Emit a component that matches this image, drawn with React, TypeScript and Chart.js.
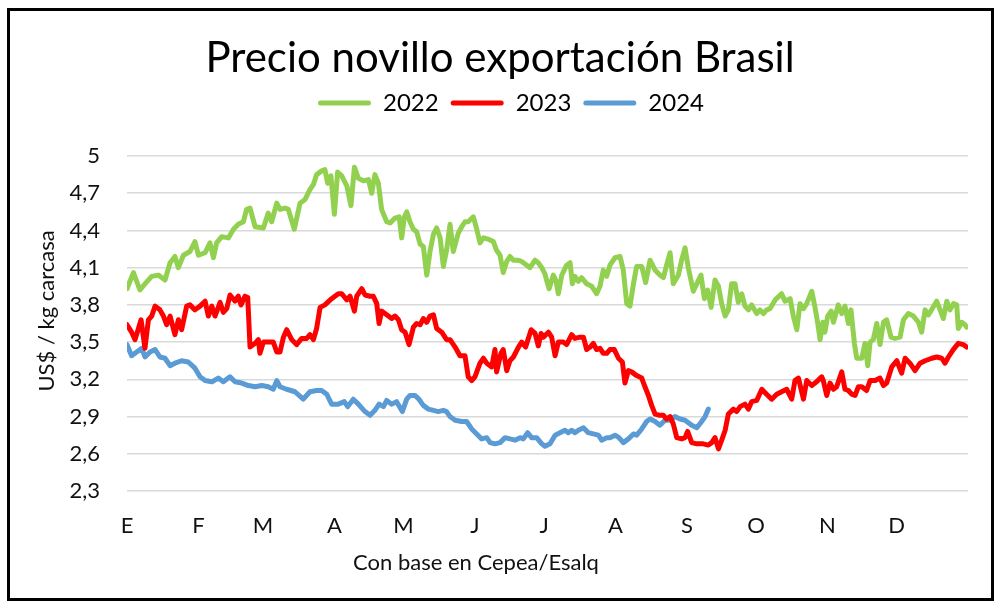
import React, { useEffect, useRef } from "react";
import { Chart, registerables } from "chart.js";

Chart.register(...registerables);

const chartTitle = "Precio novillo exportación Brasil";
const xAxisTitle = "Con base en Cepea/Esalq";
const yAxisTitle = "US$ / kg carcasa";

const monthLabels = ["E", "F", "M", "A", "M", "J", "J", "A", "S", "O", "N", "D"];
const monthStartDays = [0, 31, 59, 90, 120, 151, 181, 212, 243, 273, 304, 334];
const yTickValues = [2.3, 2.6, 2.9, 3.2, 3.5, 3.8, 4.1, 4.4, 4.7, 5.0];

const seriesNames = ["2022", "2023", "2024"];
const seriesColors = ["#92D050", "#FF0000", "#5B9BD5"];

const days2022 = [0, 2.8, 5.6, 7.8, 10.7, 13.6, 16.5, 18.7, 20.8, 22.3, 24.5, 27.3, 29.5, 31.0, 33.9, 36.0, 37.5, 38.9, 41.1, 44.0, 46.2, 48.3, 50.5, 51.9, 53.4, 55.6, 59.2, 61.3, 62.8, 65.0, 66.4, 68.6, 70.0, 72.6, 75.1, 77.3, 79.4, 80.9, 82.3, 84.5, 85.9, 87.1, 88.5, 90.0, 91.4, 93.2, 95.4, 97.2, 98.7, 100.4, 102.6, 104.8, 106.2, 107.6, 109.1, 110.5, 112.7, 114.2, 116.3, 118.1, 119.2, 120.4, 121.4, 122.8, 124.3, 125.7, 127.2, 128.6, 130.1, 131.5, 133.0, 134.4, 135.9, 137.3, 138.7, 140.2, 141.6, 143.8, 145.3, 146.7, 148.1, 150.3, 151.8, 153.2, 154.7, 156.8, 159.0, 160.4, 161.9, 163.3, 164.8, 166.2, 167.7, 169.9, 171.3, 173.5, 174.9, 177.1, 178.5, 180.0, 181.4, 182.1, 183.2, 185.0, 186.1, 187.2, 188.7, 190.8, 192.3, 193.3, 194.4, 195.9, 197.3, 199.5, 201.7, 203.8, 205.3, 206.7, 208.2, 209.6, 211.8, 214.0, 215.4, 216.9, 218.3, 219.8, 221.2, 223.4, 225.1, 227.0, 229.2, 231.3, 232.8, 234.2, 235.7, 237.1, 239.3, 240.7, 242.2, 243.6, 245.8, 247.3, 249.1, 250.6, 252.0, 253.5, 255.2, 256.7, 258.1, 259.6, 261.0, 262.4, 263.9, 265.3, 266.8, 268.2, 269.7, 271.1, 273.3, 274.7, 276.2, 277.6, 279.1, 281.3, 284.1, 285.6, 287.8, 289.2, 290.7, 292.1, 293.6, 295.0, 297.2, 298.6, 299.8, 300.8, 302.0, 302.9, 304.1, 305.6, 306.6, 308.7, 310.2, 311.6, 313.1, 314.2, 315.7, 316.7, 318.9, 320.3, 321.5, 322.5, 323.9, 325.4, 326.8, 328.3, 329.7, 331.6, 333.3, 335.5, 337.0, 339.1, 341.3, 343.5, 344.9, 346.4, 347.8, 349.2, 351.4, 352.9, 354.3, 355.8, 357.2, 358.7, 360.1, 360.8, 362.3, 363.7, 364.4];
const price2022 = [3.93, 4.06, 3.92, 3.97, 4.03, 4.04, 4.00, 4.14, 4.19, 4.10, 4.20, 4.23, 4.31, 4.20, 4.22, 4.30, 4.18, 4.30, 4.35, 4.34, 4.41, 4.45, 4.47, 4.57, 4.58, 4.43, 4.42, 4.54, 4.47, 4.62, 4.57, 4.58, 4.57, 4.41, 4.62, 4.65, 4.73, 4.77, 4.85, 4.88, 4.89, 4.78, 4.84, 4.53, 4.87, 4.84, 4.76, 4.60, 4.91, 4.82, 4.80, 4.81, 4.70, 4.85, 4.78, 4.57, 4.47, 4.46, 4.50, 4.51, 4.34, 4.51, 4.55, 4.47, 4.41, 4.39, 4.29, 4.27, 4.04, 4.23, 4.37, 4.42, 4.34, 4.11, 4.24, 4.45, 4.23, 4.38, 4.43, 4.47, 4.47, 4.51, 4.41, 4.30, 4.34, 4.33, 4.31, 4.24, 4.20, 4.06, 4.15, 4.19, 4.16, 4.16, 4.15, 4.12, 4.10, 4.16, 4.14, 4.10, 4.05, 4.00, 3.93, 4.04, 4.00, 3.89, 4.04, 4.12, 4.14, 3.97, 4.03, 3.99, 4.02, 3.97, 3.95, 3.89, 3.95, 4.08, 4.03, 4.12, 4.18, 4.19, 4.08, 3.81, 3.79, 3.97, 4.11, 4.11, 3.98, 4.16, 4.08, 4.04, 4.02, 4.12, 4.22, 3.97, 4.04, 4.16, 4.26, 4.10, 3.91, 3.97, 4.04, 3.85, 3.92, 3.78, 4.00, 3.95, 3.81, 3.71, 3.76, 3.97, 3.97, 3.82, 3.89, 3.79, 3.76, 3.80, 3.73, 3.76, 3.73, 3.76, 3.77, 3.84, 3.89, 3.83, 3.85, 3.71, 3.60, 3.81, 3.77, 3.81, 3.91, 3.78, 3.65, 3.52, 3.66, 3.58, 3.71, 3.75, 3.66, 3.80, 3.73, 3.79, 3.65, 3.76, 3.49, 3.37, 3.37, 3.49, 3.31, 3.50, 3.52, 3.65, 3.48, 3.66, 3.68, 3.54, 3.53, 3.54, 3.68, 3.73, 3.71, 3.66, 3.58, 3.76, 3.72, 3.76, 3.83, 3.76, 3.69, 3.83, 3.76, 3.81, 3.80, 3.61, 3.66, 3.64, 3.62];

const days2023 = [0, 2.0, 3.5, 6.1, 7.8, 9.3, 10.7, 12.2, 14.3, 15.8, 17.2, 18.7, 20.8, 22.3, 23.7, 25.9, 27.3, 29.5, 31.7, 33.9, 35.3, 36.8, 38.2, 40.4, 41.8, 43.3, 44.7, 46.9, 48.3, 49.5, 51.2, 52.4, 53.4, 55.6, 57.0, 57.7, 59.2, 61.3, 63.5, 65.0, 66.4, 67.9, 69.3, 71.5, 73.6, 75.8, 78.0, 79.4, 80.9, 82.3, 83.8, 85.9, 88.8, 91.7, 93.2, 95.4, 96.8, 98.7, 99.7, 101.9, 103.3, 105.5, 106.9, 108.4, 109.4, 110.5, 112.7, 114.9, 116.3, 117.8, 119.2, 120.7, 122.4, 124.3, 125.7, 127.2, 128.6, 130.1, 131.5, 133.0, 134.4, 136.6, 138.7, 140.2, 142.4, 144.5, 146.7, 148.1, 149.6, 151.0, 153.2, 154.7, 156.1, 158.3, 159.7, 160.4, 162.3, 163.3, 164.8, 166.2, 167.7, 169.9, 171.3, 173.0, 175.4, 177.1, 178.5, 179.7, 180.7, 182.9, 184.3, 185.8, 187.2, 189.4, 190.8, 193.0, 194.4, 196.6, 198.1, 199.5, 201.0, 202.4, 203.8, 205.3, 206.7, 208.2, 209.6, 211.5, 213.3, 215.0, 216.1, 217.6, 219.0, 221.2, 223.4, 224.8, 226.3, 227.7, 229.2, 231.3, 232.8, 234.2, 235.7, 237.1, 238.6, 240.7, 242.2, 243.3, 245.1, 247.3, 250.1, 252.3, 253.8, 255.2, 256.7, 258.1, 259.6, 261.0, 263.2, 264.6, 266.1, 268.2, 269.7, 271.1, 273.3, 275.5, 277.6, 279.8, 282.0, 284.1, 286.3, 288.5, 289.9, 291.4, 293.6, 295.0, 297.2, 299.3, 301.5, 302.2, 303.7, 305.1, 306.6, 308.0, 310.2, 311.6, 313.1, 314.5, 316.0, 317.4, 318.9, 321.0, 322.5, 324.7, 326.8, 328.3, 329.7, 331.9, 334.1, 336.2, 337.7, 339.8, 342.0, 344.2, 346.4, 349.3, 351.4, 353.6, 355.0, 356.5, 358.6, 360.8, 363.0, 364.4];
const price2023 = [3.64, 3.58, 3.52, 3.68, 3.45, 3.68, 3.71, 3.79, 3.76, 3.71, 3.64, 3.71, 3.56, 3.68, 3.60, 3.79, 3.80, 3.76, 3.79, 3.83, 3.71, 3.79, 3.71, 3.82, 3.74, 3.77, 3.88, 3.83, 3.87, 3.80, 3.87, 3.86, 3.46, 3.49, 3.52, 3.41, 3.50, 3.50, 3.50, 3.42, 3.42, 3.54, 3.60, 3.52, 3.48, 3.53, 3.53, 3.56, 3.52, 3.61, 3.78, 3.80, 3.85, 3.89, 3.89, 3.84, 3.87, 3.75, 3.87, 3.93, 3.88, 3.87, 3.87, 3.81, 3.65, 3.75, 3.72, 3.69, 3.71, 3.68, 3.60, 3.58, 3.48, 3.62, 3.65, 3.64, 3.69, 3.66, 3.71, 3.72, 3.61, 3.58, 3.52, 3.52, 3.46, 3.39, 3.39, 3.22, 3.19, 3.22, 3.33, 3.37, 3.33, 3.30, 3.44, 3.26, 3.41, 3.44, 3.27, 3.35, 3.38, 3.46, 3.50, 3.46, 3.60, 3.57, 3.47, 3.57, 3.54, 3.58, 3.54, 3.39, 3.50, 3.50, 3.48, 3.56, 3.53, 3.54, 3.54, 3.44, 3.46, 3.49, 3.44, 3.45, 3.41, 3.41, 3.44, 3.44, 3.37, 3.34, 3.17, 3.27, 3.26, 3.23, 3.21, 3.14, 3.07, 2.99, 2.92, 2.91, 2.91, 2.88, 2.90, 2.84, 2.73, 2.72, 2.73, 2.78, 2.69, 2.68, 2.68, 2.67, 2.69, 2.73, 2.64, 2.71, 2.79, 2.92, 2.96, 2.94, 2.98, 3.00, 2.96, 3.02, 3.03, 3.12, 3.08, 3.04, 3.08, 3.10, 3.12, 3.04, 3.19, 3.21, 3.04, 3.19, 3.15, 3.18, 3.22, 3.19, 3.07, 3.17, 3.12, 3.14, 3.26, 3.12, 3.11, 3.08, 3.07, 3.14, 3.14, 3.11, 3.19, 3.19, 3.21, 3.15, 3.17, 3.30, 3.35, 3.25, 3.37, 3.33, 3.27, 3.33, 3.35, 3.37, 3.38, 3.37, 3.33, 3.38, 3.44, 3.49, 3.48, 3.46];

const days2024 = [0, 2.0, 4.2, 6.4, 7.8, 10.0, 12.2, 14.3, 16.5, 18.7, 20.8, 23.7, 26.6, 29.5, 31.7, 33.9, 36.8, 39.6, 41.8, 44.7, 46.9, 49.8, 52.7, 55.6, 58.5, 61.3, 63.5, 65.0, 66.4, 69.3, 72.9, 76.5, 79.4, 82.3, 84.5, 86.7, 88.8, 91.7, 94.3, 95.8, 98.2, 100.4, 103.3, 105.5, 107.6, 109.4, 111.3, 112.7, 114.9, 117.0, 119.5, 121.4, 122.8, 125.0, 126.7, 128.6, 130.8, 133.0, 135.1, 137.3, 138.7, 140.2, 142.4, 145.3, 147.4, 149.6, 151.8, 153.9, 156.1, 157.6, 159.7, 161.9, 164.1, 166.2, 168.4, 170.6, 172.0, 173.9, 175.6, 177.8, 180.0, 181.4, 183.6, 185.8, 187.9, 190.1, 191.5, 193.0, 194.4, 195.9, 198.1, 200.2, 202.4, 204.6, 206.0, 208.2, 209.6, 211.8, 213.5, 215.4, 217.6, 219.8, 221.2, 223.4, 225.5, 227.0, 229.2, 231.3, 233.5, 235.7, 237.8, 240.0, 242.2, 245.1, 247.3, 249.4, 250.9, 252.3];
const price2024 = [3.48, 3.39, 3.42, 3.45, 3.38, 3.42, 3.44, 3.38, 3.37, 3.31, 3.33, 3.35, 3.34, 3.29, 3.22, 3.19, 3.18, 3.21, 3.18, 3.22, 3.18, 3.17, 3.15, 3.14, 3.15, 3.14, 3.12, 3.19, 3.14, 3.12, 3.10, 3.04, 3.10, 3.11, 3.11, 3.08, 3.00, 3.00, 3.02, 2.98, 3.04, 3.00, 2.94, 2.91, 2.95, 3.00, 2.98, 3.03, 3.00, 3.02, 2.94, 3.04, 3.07, 3.07, 3.04, 2.99, 2.96, 2.95, 2.94, 2.95, 2.94, 2.90, 2.87, 2.86, 2.86, 2.80, 2.76, 2.72, 2.73, 2.69, 2.68, 2.69, 2.73, 2.72, 2.71, 2.73, 2.72, 2.77, 2.73, 2.73, 2.68, 2.66, 2.68, 2.75, 2.77, 2.79, 2.77, 2.79, 2.77, 2.79, 2.81, 2.77, 2.76, 2.75, 2.71, 2.73, 2.73, 2.75, 2.73, 2.69, 2.72, 2.76, 2.75, 2.80, 2.86, 2.88, 2.86, 2.83, 2.87, 2.87, 2.90, 2.88, 2.87, 2.83, 2.81, 2.86, 2.90, 2.96];

const allDays = [days2022, days2023, days2024];
const allPrices = [price2022, price2023, price2024];

const FONT = "Lato";

function formatTick(v: number): string {
  return String(Math.round(v * 10) / 10).replace(".", ",");
}

export default function App() {
  const canvasRef = useRef<HTMLCanvasElement | null>(null);

  useEffect(() => {
    const canvas = canvasRef.current;
    if (!canvas) return;

    const datasets = seriesNames.map((name, i) => ({
      label: name,
      data: allDays[i].map((d, j) => ({ x: d, y: allPrices[i][j] })),
      borderColor: seriesColors[i],
      backgroundColor: seriesColors[i],
      borderWidth: 5,
      pointRadius: 0,
      tension: 0,
      borderJoinStyle: "round" as const,
      borderCapStyle: "round" as const,
      yAxisID: "y",
    }));

    const legendSpacer = {
      id: "legendSpacer",
      beforeInit(chart: any) {
        const legend = chart.legend;
        if (!legend) return;
        const origFit = legend.fit;
        legend.fit = function () {
          origFit.call(this);
          this.height += 31;
        };
      },
      afterLayout(chart: any) {
        const legend = chart.legend;
        if (!legend) return;
        legend.left += 11;
        legend.right += 11;
      },
    };

    const decorations = {
      id: "decorations",
      afterDraw(chart: any) {
        const ctx = chart.ctx;
        ctx.save();
        ctx.fillStyle = "#111";
        ctx.font = `22px ${FONT}`;
        ctx.textAlign = "center";
        ctx.textBaseline = "middle";
        ctx.fillText(xAxisTitle, 476, 563);
        ctx.translate(47, 311);
        ctx.rotate(-Math.PI / 2);
        ctx.fillText(yAxisTitle, 0, 0);
        ctx.restore();
        ctx.save();
        ctx.strokeStyle = "#000";
        ctx.lineWidth = 3;
        ctx.strokeRect(8.5, 9.5, 984, 590);
        ctx.restore();
      },
    };

    const chart = new Chart(canvas, {
      type: "line",
      data: { datasets },
      options: {
        responsive: false,
        animation: false,
        layout: { padding: { left: 0, right: 0, top: 0, bottom: 0 } },
        plugins: {
          title: {
            display: true,
            text: chartTitle,
            color: "#000",
            font: { family: FONT, size: 42, weight: "normal", lineHeight: 1 },
            padding: { top: 37, bottom: 0 },
          },
          legend: {
            display: true,
            position: "top",
            labels: {
              color: "#111",
              font: { family: FONT, size: 24 },
              boxWidth: 53,
              boxHeight: 5,
              padding: 12,
              generateLabels: (ch: any) =>
                ch.data.datasets.map((ds: any, i: number) => ({
                  text: ds.label,
                  fillStyle: seriesColors[i],
                  strokeStyle: seriesColors[i],
                  lineWidth: 0,
                  hidden: false,
                  datasetIndex: i,
                  borderRadius: 2.5,
                })),
            },
          },
          tooltip: { enabled: false },
        },
        scales: {
          x: {
            type: "linear",
            min: 0,
            max: 365,
            grid: { display: false, drawTicks: false },
            border: { display: false },
            afterBuildTicks: (scale: any) => {
              scale.ticks = monthStartDays.map((v) => ({ value: v }));
            },
            afterFit: (scale: any) => {
              scale.height = 116;
            },
            ticks: {
              autoSkip: false,
              maxRotation: 0,
              minRotation: 0,
              padding: 22,
              color: "#111",
              font: { family: FONT, size: 22 },
              callback: (_v: any, index: number) => monthLabels[index],
            },
          },
          y: {
            type: "linear",
            position: "left",
            min: 2.3,
            max: 5.0,
            grid: { color: "#d9d9d9", lineWidth: 1.5, drawTicks: false },
            border: { display: false },
            afterBuildTicks: (scale: any) => {
              scale.ticks = yTickValues.map((v) => ({ value: v }));
            },
            afterFit: (scale: any) => {
              scale.width = 127;
            },
            ticks: {
              padding: 27,
              color: "#111",
              font: { family: FONT, size: 22 },
              callback: (v: any) => formatTick(Number(v)),
            },
          },
          yRight: {
            type: "linear",
            position: "right",
            display: true,
            grid: { display: false, drawTicks: false },
            border: { display: false },
            ticks: { display: false },
            afterFit: (scale: any) => {
              scale.width = 32;
            },
          },
        },
      },
      plugins: [legendSpacer, decorations],
    } as any);

    return () => {
      chart.destroy();
    };
  }, []);

  return (
    <div
      style={{
        position: "fixed",
        left: 0,
        top: 0,
        width: 1000,
        height: 607,
        background: "#fff",
      }}
    >
      <canvas ref={canvasRef} width={1000} height={607} style={{ display: "block" }} />
    </div>
  );
}
